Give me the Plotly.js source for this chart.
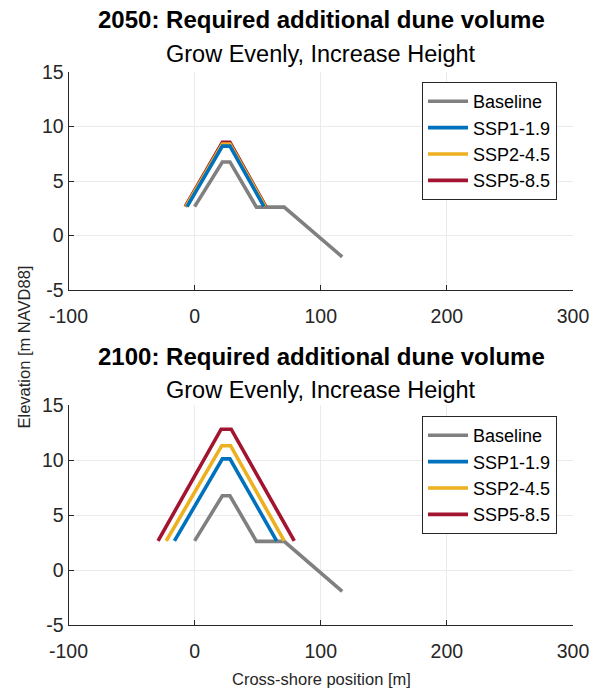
<!DOCTYPE html>
<html>
<head>
<meta charset="utf-8">
<script src="https://cdn.plot.ly/plotly-3.0.1.min.js"></script>
<style>html,body{margin:0;padding:0;background:#fff;}#chart{width:592px;height:689px;}</style>
</head>
<body>
<div id="chart"></div>
<script>
// Baseline profile (same for both years)
const baseX = [0, 22, 28, 49, 71, 117];
const baseY = [2.65, 6.75, 6.75, 2.6, 2.6, -1.95];

// 2050 scenarios
const ssp1_2050_X = [-6, 22, 28, 55];
const ssp1_2050_Y = [2.65, 8.2, 8.2, 2.65];
const ssp2_2050_X = [-7, 22, 28, 56];
const ssp2_2050_Y = [2.65, 8.4, 8.4, 2.65];
const ssp5_2050_X = [-7.5, 22, 28, 56.5];
const ssp5_2050_Y = [2.65, 8.55, 8.55, 2.65];

// 2100 scenarios
const ssp1_2100_X = [-16, 22, 28, 65];
const ssp1_2100_Y = [2.65, 10.1, 10.1, 2.65];
const ssp2_2100_X = [-22.5, 21.5, 28.5, 71];
const ssp2_2100_Y = [2.65, 11.3, 11.3, 2.65];
const ssp5_2100_X = [-29, 21, 29, 79];
const ssp5_2100_Y = [2.65, 12.8, 12.8, 2.65];

const seriesNames = ['Baseline', 'SSP1-1.9', 'SSP2-4.5', 'SSP5-8.5'];
const xTicks = [-100, 0, 100, 200, 300];
const yTicks = [-5, 0, 5, 10, 15];
const titles = ['2050: Required additional dune volume', '2100: Required additional dune volume'];
const subtitle = 'Grow Evenly, Increase Height';
const xLabel = 'Cross-shore position [m]';
const yLabel = 'Elevation [m NAVD88]';

const colors = ['#808080', '#0072BD', '#EDB120', '#A2142F'];
const FONT = 'Liberation Sans, Arial, sans-serif';
const W = 592, H = 689;

function tr(x, y, i, sub) {
  return {
    x: x, y: y, type: 'scatter', mode: 'lines',
    name: seriesNames[i],
    line: {color: colors[i], width: 3.6},
    xaxis: sub === 1 ? 'x' : 'x2',
    yaxis: sub === 1 ? 'y' : 'y2',
    legend: sub === 1 ? 'legend' : 'legend2',
    legendrank: i + 1
  };
}

const data = [
  tr(baseX, baseY, 0, 1),
  tr(ssp5_2050_X, ssp5_2050_Y, 3, 1),
  tr(ssp2_2050_X, ssp2_2050_Y, 2, 1),
  tr(ssp1_2050_X, ssp1_2050_Y, 1, 1),
  tr(baseX, baseY, 0, 2),
  tr(ssp5_2100_X, ssp5_2100_Y, 3, 2),
  tr(ssp2_2100_X, ssp2_2100_Y, 2, 2),
  tr(ssp1_2100_X, ssp1_2100_Y, 1, 2)
];

const xDom = [68.5 / W, 573 / W];
function xax(anchor) {
  return {
    domain: xDom, anchor: anchor, range: [-100, 300],
    tickvals: xTicks, ticktext: xTicks.map(String),
    showgrid: true, gridcolor: '#ebebeb', gridwidth: 1, zeroline: false,
    showline: true, linecolor: '#262626', linewidth: 1,
    ticks: 'inside', ticklen: 5, tickcolor: '#262626',
    ticklabelstandoff: 9,
    tickfont: {family: FONT, size: 19.5, color: '#262626'}
  };
}
function yax(anchor, dom) {
  return {
    domain: dom, anchor: anchor, range: [-5, 15],
    tickvals: yTicks, ticktext: yTicks.map(String),
    showgrid: true, gridcolor: '#ebebeb', gridwidth: 1, zeroline: false,
    showline: true, linecolor: '#262626', linewidth: 1,
    ticks: 'inside', ticklen: 5, tickcolor: '#262626',
    tickfont: {family: FONT, size: 19.5, color: '#262626'}
  };
}
function leg(topPx) {
  return {
    x: 422 / W, y: 1 - topPx / H, xanchor: 'left', yanchor: 'top',
    bgcolor: '#ffffff', bordercolor: '#262626', borderwidth: 1,
    font: {family: FONT, size: 18, color: '#000'},
    traceorder: 'normal', itemwidth: 40
  };
}
function ann(text, yPx, size, bold, color) {
  return {
    text: bold ? '<b>' + text + '</b>' : text,
    xref: 'paper', yref: 'paper', x: 321 / W, y: 1 - yPx / H,
    xanchor: 'center', yanchor: 'middle', showarrow: false,
    font: {family: FONT, size: size, color: color}
  };
}

const layout = {
  width: W, height: H,
  margin: {l: 0, r: 0, t: 0, b: 0},
  paper_bgcolor: '#fff', plot_bgcolor: '#fff',
  font: {family: FONT},
  xaxis: xax('y'),
  yaxis: yax('x', [1 - 290 / H, 1 - 72 / H]),
  xaxis2: xax('y2'),
  yaxis2: yax('x2', [1 - 625 / H, 1 - 405 / H]),
  legend: leg(82),
  legend2: leg(416),
  annotations: [
    ann(titles[0], 20, 24, true, '#000'),
    ann(subtitle, 54, 23.5, false, '#000'),
    ann(titles[1], 356, 24, true, '#000'),
    ann(subtitle, 390, 23.5, false, '#000'),
    ann(xLabel, 679, 16.5, false, '#262626'),
    {
      text: yLabel, xref: 'paper', yref: 'paper', x: 23.5 / W, y: 1 - 347 / H,
      xanchor: 'center', yanchor: 'middle', showarrow: false, textangle: -90,
      font: {family: FONT, size: 16.5, color: '#262626'}
    }
  ]
};

Plotly.newPlot('chart', data, layout, {staticPlot: true, displayModeBar: false});
</script>
</body>
</html>
